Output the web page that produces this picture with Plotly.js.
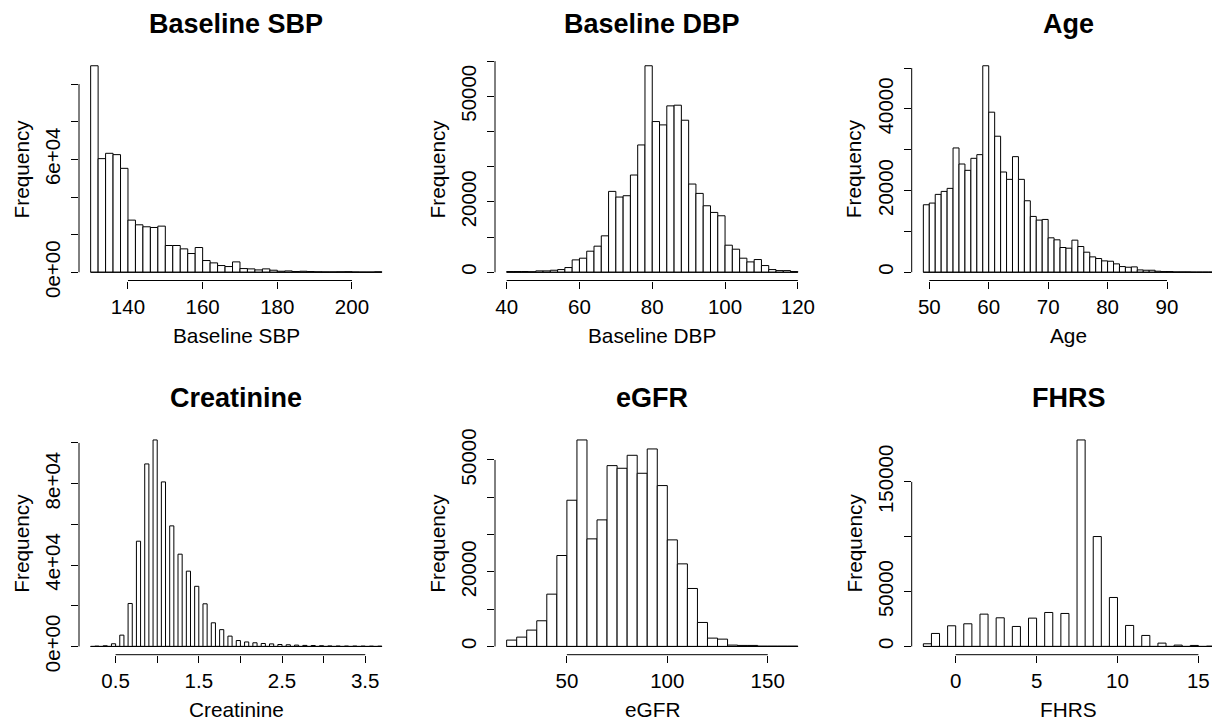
<!DOCTYPE html>
<html><head><meta charset="utf-8">
<script src="https://cdn.plot.ly/plotly-3.0.1.min.js"></script>
<style>html,body{margin:0;padding:0;overflow:hidden;background:#fff}#chart{width:1230px;height:723px}</style>
</head><body><div id="chart"></div><script>
// ---------- DATA (histogram bin counts) ----------
const sbpStart = 130, sbpWidth = 2;
const sbpCounts = [109770,60390,63230,62520,55240,27710,25220,24160,23800,24510,
  14210,14210,12430,9950,13140,6220,4970,3550,3020,5510,
  1950,1780,1240,1780,1070,530,710,360,530,360,
  250,200,200,250,300,150,100,100,250];

const dbpStart = 40, dbpWidth = 2;
const dbpCounts = [200,200,200,150,380,380,570,760,1330,3510,
  3990,5980,7410,10350,22980,21370,21750,27630,36180,58690,
  42830,41880,47290,47480,43210,25070,22410,18900,17000,16050,
  7690,6550,3990,2940,3610,1900,760,470,470,190];

const ageStart = 49, ageWidth = 1;
const ageCounts = [16530,16940,19070,19800,20540,30440,26510,24960,27900,28800,
  50570,39200,33310,24550,22750,28310,22750,17510,13670,12770,
  12930,8430,7940,6060,5890,7860,6300,4910,3760,3360,
  2780,2700,2050,1390,1230,1310,570,490,490,250,
  160,160,80,80,80,40,40,40,40];

const creatStart = 0.2, creatWidth = 0.05;
const creatCounts = [0,160,0,330,0,1310,0,5560,0,21110,
  0,51720,0,89690,0,101470,0,80850,0,59250,
  0,45340,0,37000,0,29550,0,20950,0,11620,
  0,8250,0,5070,0,2900,0,2200,0,1800,
  0,1450,0,1250,0,950,0,820,0,650,
  0,500,0,450,0,350,0,250,0,220,
  0,200,0,200,0,180,0,160,0,150];

const egfrStart = 20, egfrWidth = 5;
const egfrCounts = [1700,2500,4380,6880,14020,24380,39200,55360,28840,33930,
  48480,47770,51250,46430,52950,43130,28570,22140,15540,6430,
  2230,1960,360,270,270,90,90,90,90];

const fhrsStart = -2, fhrsWidth = 0.5;
const fhrsCounts = [2430,11840,0,18820,0,20650,0,29450,0,26110,
  0,18210,0,25800,0,30970,0,30060,0,188220,
  0,100180,0,44630,0,19130,0,10020,0,3040,
  0,1210,0,910,0,300];

// tick values / labels
const sbpXTicks = [140,160,180,200];
const sbpXLabels = ['140','160','180','200'];
const sbpYTicks = [0,20000,40000,60000,80000,100000];
const sbpYLabels = ['0e+00','','','6e+04','',''];

const dbpXTicks = [40,60,80,100,120];
const dbpXLabels = ['40','60','80','100','120'];
const dbpYTicks = [0,10000,20000,30000,40000,50000,60000];
const dbpYLabels = ['0','','20000','','','50000',''];

const ageXTicks = [50,60,70,80,90];
const ageXLabels = ['50','60','70','80','90'];
const ageYTicks = [0,10000,20000,30000,40000,50000];
const ageYLabels = ['0','','20000','','40000',''];

const creatXTicks = [0.5,1.0,1.5,2.0,2.5,3.0,3.5];
const creatXLabels = ['0.5','','1.5','','2.5','','3.5'];
const creatYTicks = [0,20000,40000,60000,80000,100000];
const creatYLabels = ['0e+00','','4e+04','','8e+04',''];

const egfrXTicks = [50,100,150];
const egfrXLabels = ['50','100','150'];
const egfrYTicks = [0,10000,20000,30000,40000,50000];
const egfrYLabels = ['0','','20000','','','50000'];

const fhrsXTicks = [0,5,10,15];
const fhrsXLabels = ['0','5','10','15'];
const fhrsYTicks = [0,50000,100000,150000];
const fhrsYLabels = ['0','50000','','150000'];

const titles = ['Baseline SBP','Baseline DBP','Age','Creatinine','eGFR','FHRS'];
const xLabels = ['Baseline SBP','Baseline DBP','Age','Creatinine','eGFR','FHRS'];

// ---------- LAYOUT ----------
const W = 1230, H = 723;
const FONT = 'Liberation Sans, Arial, Helvetica, sans-serif';
const colLeft = [79, 495, 911.7], regW = 314.5;
const rowTop = [57.5, 431.7], regH = 223;

const panels = [
  {start:sbpStart, width:sbpWidth, counts:sbpCounts, xt:sbpXTicks, xl:sbpXLabels, yt:sbpYTicks, yl:sbpYLabels},
  {start:dbpStart, width:dbpWidth, counts:dbpCounts, xt:dbpXTicks, xl:dbpXLabels, yt:dbpYTicks, yl:dbpYLabels},
  {start:ageStart, width:ageWidth, counts:ageCounts, xt:ageXTicks, xl:ageXLabels, yt:ageYTicks, yl:ageYLabels},
  {start:creatStart, width:creatWidth, counts:creatCounts, xt:creatXTicks, xl:creatXLabels, yt:creatYTicks, yl:creatYLabels},
  {start:egfrStart, width:egfrWidth, counts:egfrCounts, xt:egfrXTicks, xl:egfrXLabels, yt:egfrYTicks, yl:egfrYLabels},
  {start:fhrsStart, width:fhrsWidth, counts:fhrsCounts, xt:fhrsXTicks, xl:fhrsXLabels, yt:fhrsYTicks, yl:fhrsYLabels}
];

const data = [];
const layout = {
  width: W, height: H,
  margin: {l:0, r:0, t:0, b:0},
  paper_bgcolor: '#fff', plot_bgcolor: '#fff',
  showlegend: false,
  shapes: [], annotations: []
};

panels.forEach((p, i) => {
  const col = i % 3, row = Math.floor(i / 3);
  const xa = i === 0 ? 'x' : 'x' + (i + 1);
  const ya = i === 0 ? 'y' : 'y' + (i + 1);
  const n = p.counts.length;
  const lo = p.start, hi = p.start + p.width * n;
  const xpad = 0.04 * (hi - lo);
  const ymax = Math.max(...p.counts);
  const x0 = colLeft[col] / W, x1 = (colLeft[col] + regW) / W;
  const yTopPx = rowTop[row], yBotPx = rowTop[row] + regH;
  const d0 = 1 - yBotPx / H, d1 = 1 - yTopPx / H;

  const centers = p.counts.map((_, k) => p.start + p.width * (k + 0.5));
  data.push({
    type: 'bar', x: centers, y: p.counts, width: p.width,
    xaxis: xa, yaxis: ya,
    marker: {color: '#ffffff', line: {color: '#000000', width: 1}},
    hoverinfo: 'skip'
  });

  const axisCommon = {
    showgrid: false, zeroline: false, showline: false,
    ticks: 'outside', ticklen: 7, tickwidth: 1, tickcolor: '#000',
    tickfont: {family: FONT, size: 20.5, color: '#000'},
    tickmode: 'array', fixedrange: true
  };
  layout[xa === 'x' ? 'xaxis' : 'xaxis' + (i + 1)] = Object.assign({}, axisCommon, {
    domain: [x0, x1], anchor: ya,
    range: [lo - xpad, hi + xpad],
    tickvals: p.xt, ticktext: p.xl, ticklabelstandoff: 1
  });
  layout[ya === 'y' ? 'yaxis' : 'yaxis' + (i + 1)] = Object.assign({}, axisCommon, {
    domain: [d0, d1], anchor: xa,
    range: [-0.04 * ymax, 1.04 * ymax],
    tickvals: p.yt, ticktext: p.yl, tickangle: -90, ticklabelstandoff: 3
  });

  // baseline under bars (R draws empty bins as flat outline)
  layout.shapes.push({type:'line', xref:xa, yref:ya, x0:lo, x1:hi, y0:0, y1:0,
    line:{color:'#000', width:1}});
  // R-style axis lines spanning first..last tick
  layout.shapes.push({type:'line', xref:xa, yref:'paper', x0:p.xt[0], x1:p.xt[p.xt.length-1],
    y0:d0, y1:d0, line:{color:'#000', width:1}});
  layout.shapes.push({type:'line', xref:'paper', yref:ya, x0:x0, x1:x0,
    y0:p.yt[0], y1:p.yt[p.yt.length-1], line:{color:'#000', width:1}});

  const cx = (colLeft[col] + regW / 2) / W;
  // main title
  layout.annotations.push({text: titles[i], xref:'paper', yref:'paper',
    x: cx, y: 1 - (yTopPx - 33.5) / H, xanchor:'center', yanchor:'middle', showarrow:false,
    font:{family:FONT, size:27, color:'#000', weight:'bold'}});
  // x label
  layout.annotations.push({text: xLabels[i], xref:'paper', yref:'paper',
    x: cx, y: 1 - (yBotPx + 55) / H, xanchor:'center', yanchor:'middle', showarrow:false,
    font:{family:FONT, size:20.8, color:'#000'}});
  // y label
  layout.annotations.push({text: 'Frequency', xref:'paper', yref:'paper',
    x: (colLeft[col] - 57.5) / W, y: (d0 + d1) / 2, xanchor:'center', yanchor:'middle',
    textangle: -90, showarrow:false,
    font:{family:FONT, size:20.8, color:'#000'}});
});

Plotly.newPlot('chart', data, layout, {displayModeBar:false, staticPlot:true});
</script></body></html>
